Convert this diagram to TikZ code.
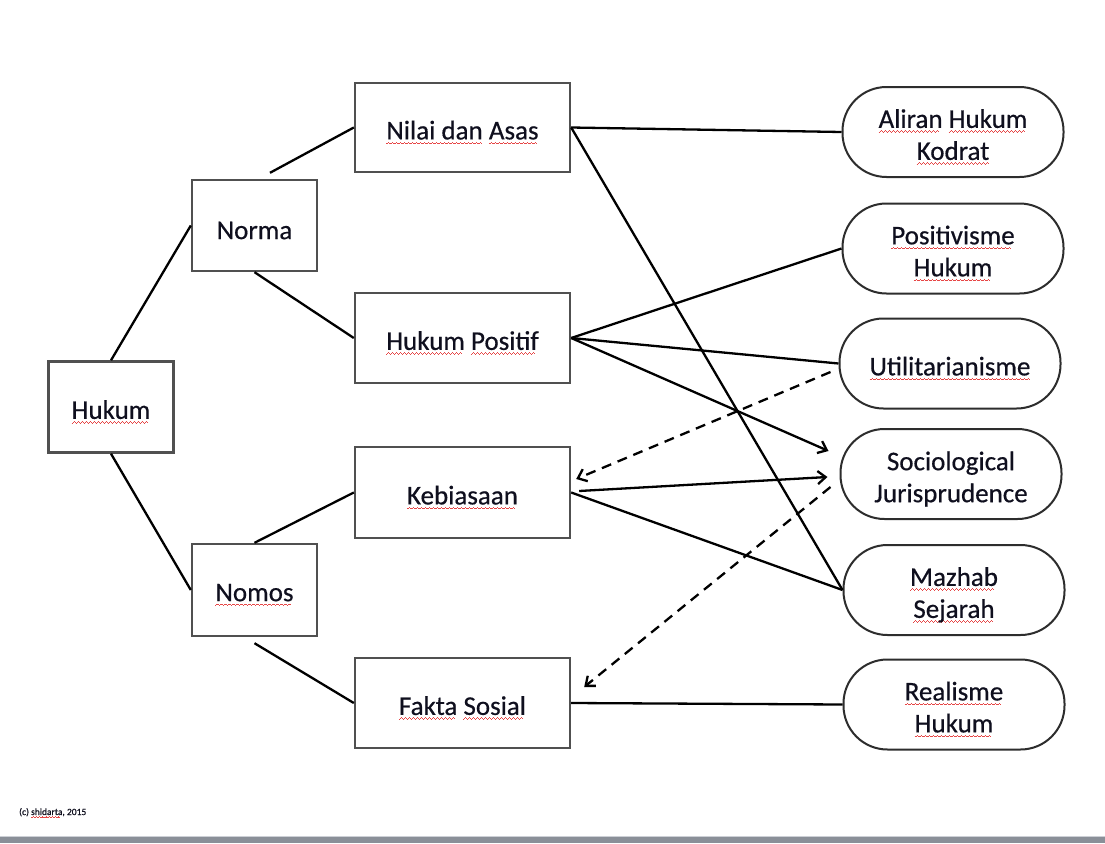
\documentclass[tikz,border=0pt]{standalone}
\usepackage{fontspec}
\setmainfont{Carlito}
\newfontfamily\diagfont{Carlito}[FakeBold=0.5]
\usetikzlibrary{arrows.meta,calc}
\definecolor{spellred}{RGB}{230,70,70}
\definecolor{boxgray}{RGB}{80,80,80}
\definecolor{pillgray}{RGB}{45,45,45}
\definecolor{textcol}{RGB}{15,15,30}
\definecolor{barcol}{RGB}{138,143,152}
\definecolor{barlight}{RGB}{205,208,214}
\newcommand\spellwave{\hbox{\rule[-5pt]{1pt}{0.9pt}\rule[-4.2pt]{1pt}{0.9pt}\rule[-3.4pt]{1pt}{0.9pt}\rule[-4.2pt]{1pt}{0.9pt}}}
\newcommand\smallspellwave{\hbox{\rule[-3pt]{0.8pt}{0.7pt}\rule[-2.4pt]{0.8pt}{0.7pt}\rule[-1.8pt]{0.8pt}{0.7pt}\rule[-2.4pt]{0.8pt}{0.7pt}}}
\newcommand\spell[1]{\setbox0=\hbox{#1}\leavevmode\rlap{\hbox to \wd0{\color{spellred}\leaders\spellwave\hfill}}\box0\relax}
\newcommand\smallspell[1]{\setbox0=\hbox{#1}\leavevmode\rlap{\hbox to \wd0{\color{spellred}\leaders\smallspellwave\hfill}}\box0\relax}
\begin{document}
\begin{tikzpicture}[x=1pt,y=-1pt,
  lbl/.style={inner sep=0pt, text=textcol, font={\diagfont\fontsize{27}{32}\selectfont},
    align=center, yshift=-5pt},
  box/.style={draw=boxgray, line width=2.4pt, rectangle, inner sep=0pt,
    minimum width=215pt, minimum height=90pt},
  smallbox/.style={box, minimum width=125pt, minimum height=91pt},
  pill/.style={draw=pillgray, line width=2pt, rectangle, rounded corners=44pt,
    inner sep=0pt, minimum width=221pt, minimum height=90pt},
  conn/.style={draw=black, line width=2.3pt},
  arr/.style={conn, -{Straight Barb[length=8pt,width=13pt,line width=2.3pt]}},
  dashedarr/.style={arr, dash pattern=on 10pt off 7pt}
]
\useasboundingbox (0,0) rectangle (1105,843);
\fill[white] (0,0) rectangle (1105,843);

% boxes
\node[smallbox, label={[lbl]center:\spell{Hukum}}] (hukum) at (111,407) {};
\node[smallbox, label={[lbl]center:Norma}] (norma) at (254.5,225.5) {};
\node[smallbox, minimum height=92pt, label={[lbl]center:\spell{Nomos}}] (nomos) at (254.5,590) {};
\node[box, minimum height=89pt, label={[lbl]center:\spell{Nilai dan} \spell{Asas}}] (nilai) at (462.5,127.5) {};
\node[box, label={[lbl]center:\spell{Hukum} \spell{Positif}}] (positif) at (462.5,338) {};
\node[box, minimum height=91pt, label={[lbl]center:\spell{Kebiasaan}}] (kebiasaan) at (462.5,492.5) {};
\node[box, label={[lbl]center:\spell{Fakta} \spell{Sosial}}] (fakta) at (462.5,703) {};

% pills
\node[pill, label={[lbl]center:\spell{Aliran} \spell{Hukum}\\\spell{Kodrat}}] (aliran) at (953,132) {};
\node[pill, label={[lbl]center:\spell{Positivisme}\\\spell{Hukum}}] (positiv) at (953,248.5) {};
\node[pill, label={[lbl]center:\spell{Utilitarianisme}}] (util) at (950,363.5) {};
\node[pill, label={[lbl]center:Sociological\\Jurisprudence}] (socio) at (951,474) {};
\node[pill, label={[lbl]center:\spell{Mazhab}\\\spell{Sejarah}}] (mazhab) at (954,590) {};
\node[pill, label={[lbl]center:\spell{Realisme}\\\spell{Hukum}}] (realisme) at (954,704.5) {};

% tree connectors
\draw[conn] (hukum.north) -- (norma.west);
\draw[conn] (hukum.south) -- (nomos.west);
\draw[conn] ($(norma.north)+(15.5,-6)$) -- (nilai.west);
\draw[conn] (norma.south) -- (positif.west);
\draw[conn] (nomos.north) -- (kebiasaan.west);
\draw[conn] ($(nomos.south)+(0,6)$) -- (fakta.west);

% right connectors
\draw[conn] (nilai.east) -- (aliran.west);
\draw[conn] (nilai.east) -- (mazhab.west);
\draw[conn] (positif.east) -- (positiv.west);
\draw[conn] (positif.east) -- (util.west);
\draw[arr] (positif.east) -- ($(socio.west)+(-11,-23)$);
\draw[dashedarr] ($(util.west)+(-8,8.5)$) -- ($(kebiasaan.east)+(5,-13.5)$);
\draw[arr] ($(kebiasaan.east)+(8,-1.5)$) -- ($(socio.west)+(-12,3)$);
\draw[conn] (kebiasaan.east) -- (mazhab.west);
\draw[dashedarr] ($(socio.west)+(-9,13)$) -- ($(fakta.east)+(13,-16)$);
\draw[conn] (fakta.east) -- (realisme.west);

% footer
\node[anchor=base west, inner sep=0pt, text=textcol, font={\diagfont\fontsize{9.5}{11}\selectfont}] (credit) at (19,815) {(c) \smallspell{shidarta}, 2015};
\fill[barlight] (0,835.5) rectangle (1105,837);
\fill[barcol] (0,837) rectangle (1105,843);
\end{tikzpicture}
\end{document}
